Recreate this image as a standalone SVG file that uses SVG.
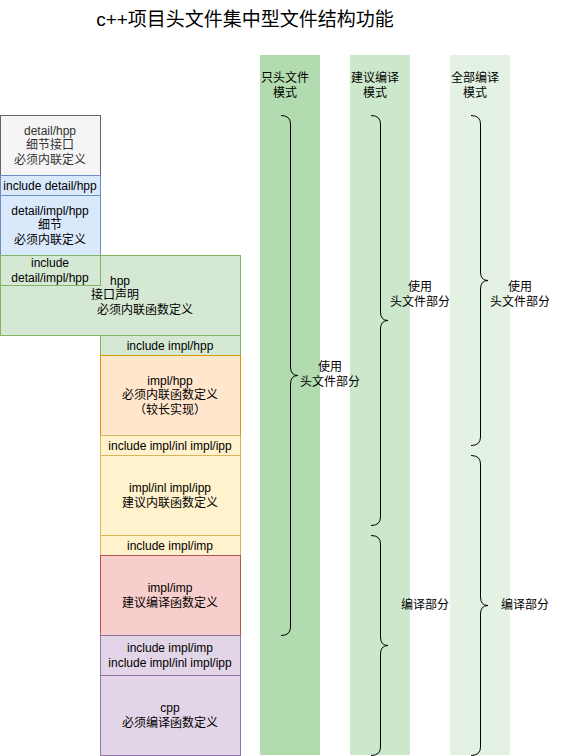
<svg xmlns="http://www.w3.org/2000/svg" width="561" height="756" viewBox="0 0 561 756">
<style>
text{font-family:"Liberation Sans","Noto Sans CJK SC",sans-serif;font-size:12px;text-anchor:middle;fill:#000}
.t{font-size:19px;font-weight:normal}
.dk{fill:#333333}
.g{fill:#d5e8d4;stroke:#82b366}
.b{fill:#dae8fc;stroke:#6c8ebf}
.gr{fill:#f5f5f5;stroke:#666666}
.o{fill:#ffe6cc;stroke:#d79b00}
.y{fill:#fff2cc;stroke:#d6b656}
.r{fill:#f8cecc;stroke:#b85450}
.p{fill:#e1d5e7;stroke:#9673a6}
.br{fill:none;stroke:#000;stroke-width:1}
</style>
<rect width="561" height="756" fill="#fff"/>
<text class="t" x="245" y="26">c++项目头文件集中型文件结构功能</text>
<g id="columns">
<rect x="260" y="55" width="60" height="700" fill="#b2dcb0"/>
<rect x="350" y="55" width="60" height="700" fill="#cce8cc"/>
<rect x="450" y="55" width="60" height="700" fill="#e3f2e3"/>
<text x="285" y="82">只头文件</text><text x="285" y="97">模式</text>
<text x="375" y="82">建议编译</text><text x="375" y="97">模式</text>
<text x="475" y="82">全部编译</text><text x="475" y="97">模式</text>
</g>
<g id="n-detail-hpp"><rect class="gr" x="0.5" y="115.5" width="100" height="60"/>
<text class="dk" x="50" y="135">detail/hpp</text><text class="dk" x="50" y="149">细节接口</text><text class="dk" x="50" y="164">必须内联定义</text></g>
<g id="n-inc-detail-hpp"><rect class="b" x="0.5" y="175.5" width="100" height="20"/><text x="50" y="190">include detail/hpp</text></g>
<g id="n-detail-impl-hpp"><rect class="b" x="0.5" y="195.5" width="100" height="60"/>
<text x="50" y="215">detail/impl/hpp</text><text x="50" y="229">细节</text><text x="50" y="244">必须内联定义</text></g>
<g id="n-hpp"><rect class="g" x="0.5" y="255.5" width="240" height="80"/>
<text x="120" y="285">hpp</text><text x="115" y="299">接口声明</text><text x="145" y="314">必须内联函数定义</text></g>
<g id="n-inc-detail-impl-hpp"><rect class="g" x="0.5" y="255.5" width="100" height="30"/>
<text x="50" y="267">include</text><text x="50" y="282">detail/impl/hpp</text></g>
<g id="n-inc-impl-hpp"><rect class="g" x="100.5" y="335.5" width="140" height="20"/><text x="170" y="350">include impl/hpp</text></g>
<g id="n-impl-hpp"><rect class="o" x="100.5" y="355.5" width="140" height="80"/>
<text x="170" y="385">impl/hpp</text><text x="170" y="399">必须内联函数定义</text><text x="170" y="414">（较长实现）</text></g>
<g id="n-inc-inl"><rect class="y" x="100.5" y="435.5" width="140" height="20"/><text x="170" y="450">include impl/inl impl/ipp</text></g>
<g id="n-inl"><rect class="y" x="100.5" y="455.5" width="140" height="80"/>
<text x="170" y="492">impl/inl impl/ipp</text><text x="170" y="507">建议内联函数定义</text></g>
<g id="n-inc-imp"><rect class="y" x="100.5" y="535.5" width="140" height="20"/><text x="170" y="550">include impl/imp</text></g>
<g id="n-imp"><rect class="r" x="100.5" y="555.5" width="140" height="80"/>
<text x="170" y="592">impl/imp</text><text x="170" y="607">建议编译函数定义</text></g>
<g id="n-inc-cpp"><rect class="p" x="100.5" y="635.5" width="140" height="40"/>
<text x="170" y="652">include impl/imp</text><text x="170" y="667">include impl/inl impl/ipp</text></g>
<g id="n-cpp"><rect class="p" x="100.5" y="675.5" width="140" height="80"/>
<text x="170" y="712">cpp</text><text x="170" y="727">必须编译函数定义</text></g>
<g id="connectors">
<path class="br" d="M281 115.5 Q290.5 115.5 290.5 124 L290.5 367 Q290.5 375.5 298 375.5 Q290.5 375.5 290.5 384 L290.5 627 Q290.5 635.5 281 635.5"/>
<path class="br" d="M371 115.5 Q380.5 115.5 380.5 124 L380.5 312 Q380.5 320.5 388 320.5 Q380.5 320.5 380.5 329 L380.5 517 Q380.5 525.5 371 525.5"/>
<path class="br" d="M371 535.5 Q380.5 535.5 380.5 544 L380.5 637 Q380.5 645.5 388 645.5 Q380.5 645.5 380.5 654 L380.5 747 Q380.5 755.5 371 755.5"/>
<path class="br" d="M471 115.5 Q480.5 115.5 480.5 124 L480.5 272 Q480.5 280.5 488 280.5 Q480.5 280.5 480.5 289 L480.5 437 Q480.5 445.5 471 445.5"/>
<path class="br" d="M471 455.5 Q480.5 455.5 480.5 464 L480.5 597 Q480.5 605.5 488 605.5 Q480.5 605.5 480.5 614 L480.5 747 Q480.5 755.5 471 755.5"/>
</g>
<g id="labels">
<text x="330" y="371">使用</text><text x="330" y="386">头文件部分</text>
<text x="420" y="291">使用</text><text x="420" y="306">头文件部分</text>
<text x="520" y="291">使用</text><text x="520" y="306">头文件部分</text>
<text x="425" y="609">编译部分</text>
<text x="525" y="609">编译部分</text>
</g>
</svg>
